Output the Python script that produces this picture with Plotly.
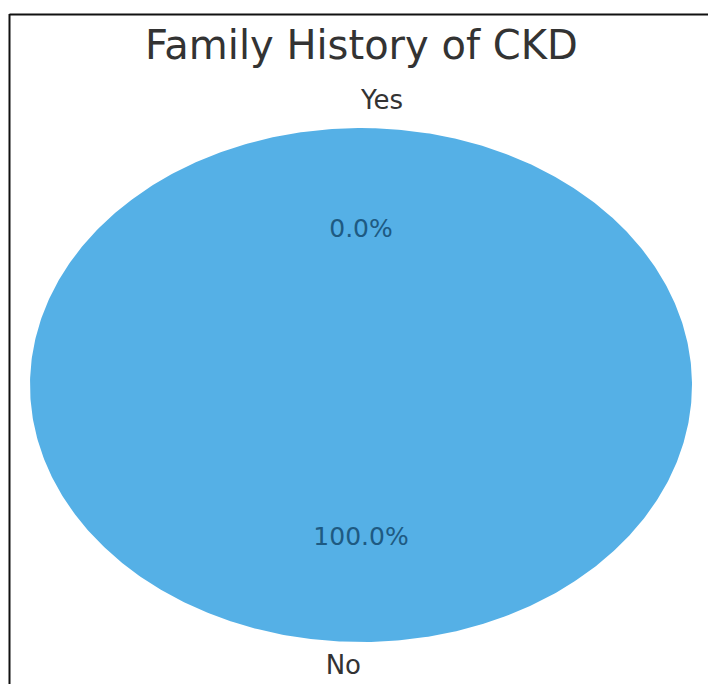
import numpy as np
import plotly.graph_objects as go

# Pie data
labels = ["Yes", "No"]
counts = [0, 100]
slice_colors = ["#f0a04b", "#55b0e6"]

title_text = "Family History of CKD"

# Figure geometry (pixels)
W, H = 708, 684
CX, CY = 361, 385      # pie centre
RX, RY = 331, 257      # pie half-width / half-height (stretched pie)

START_ANGLE = 90.0     # degrees, counter-clockwise
LABEL_DIST = 1.1
PCT_DIST = 0.6

total = float(sum(counts))
fracs = [c / total for c in counts]

fig = go.Figure()

label_x, label_y, label_pos = [], [], []
pct_x, pct_y, pct_txt = [], [], []

theta = START_ANGLE
for lab, frac, col in zip(labels, fracs, slice_colors):
    t1, t2 = theta, theta + 360.0 * frac
    n = max(2, int(abs(t2 - t1) * 2) + 2)
    arc = np.deg2rad(np.linspace(t1, t2, n))
    xs = np.concatenate([[0.0], np.cos(arc), [0.0]])
    ys = np.concatenate([[0.0], np.sin(arc), [0.0]])
    fig.add_trace(go.Scatter(
        x=xs, y=ys, mode="lines", fill="toself", fillcolor=col,
        line=dict(width=0, color=col), hoverinfo="skip", showlegend=False,
    ))
    mid = np.deg2rad((t1 + t2) / 2.0)
    lx, ly = LABEL_DIST * np.cos(mid), LABEL_DIST * np.sin(mid)
    label_x.append(lx)
    label_y.append(ly)
    label_pos.append("middle right" if lx > 0 else "middle left")
    pct_x.append(PCT_DIST * np.cos(mid))
    pct_y.append(PCT_DIST * np.sin(mid))
    pct_txt.append(f"{frac * 100:.1f}%")
    theta = t2

fig.add_trace(go.Scatter(
    x=label_x, y=label_y, mode="text", text=labels, textposition=label_pos,
    textfont=dict(family="DejaVu Sans", size=26, color="#333333"),
    hoverinfo="skip", showlegend=False,
))
fig.add_trace(go.Scatter(
    x=pct_x, y=pct_y, mode="text", text=pct_txt, textposition="middle center",
    textfont=dict(family="DejaVu Sans", size=25, color="#1e5a82"),
    hoverinfo="skip", showlegend=False,
))

# Axis ranges so the unit circle lands on the stretched pie area
x_range = [-CX / RX, (W - CX) / RX]
y_range = [-(H - CY) / RY, CY / RY]

fig.update_layout(
    width=W, height=H,
    margin=dict(l=0, r=0, t=0, b=0),
    paper_bgcolor="white", plot_bgcolor="white",
    xaxis=dict(range=x_range, visible=False, fixedrange=True),
    yaxis=dict(range=y_range, visible=False, fixedrange=True),
    annotations=[dict(
        text=title_text, xref="x", yref="paper", x=0, y=1 - 45 / H,
        xanchor="center", yanchor="middle", showarrow=False,
        font=dict(family="DejaVu Sans", size=40, color="#333333"),
    )],
    shapes=[
        dict(type="line", xref="paper", yref="paper",
             x0=9.5 / W, x1=9.5 / W, y0=0, y1=1 - 14 / H,
             line=dict(color="#111111", width=2)),
        dict(type="line", xref="paper", yref="paper",
             x0=9.5 / W, x1=1, y0=1 - 14.5 / H, y1=1 - 14.5 / H,
             line=dict(color="#111111", width=2)),
    ],
)

fig.write_html("out.html")
